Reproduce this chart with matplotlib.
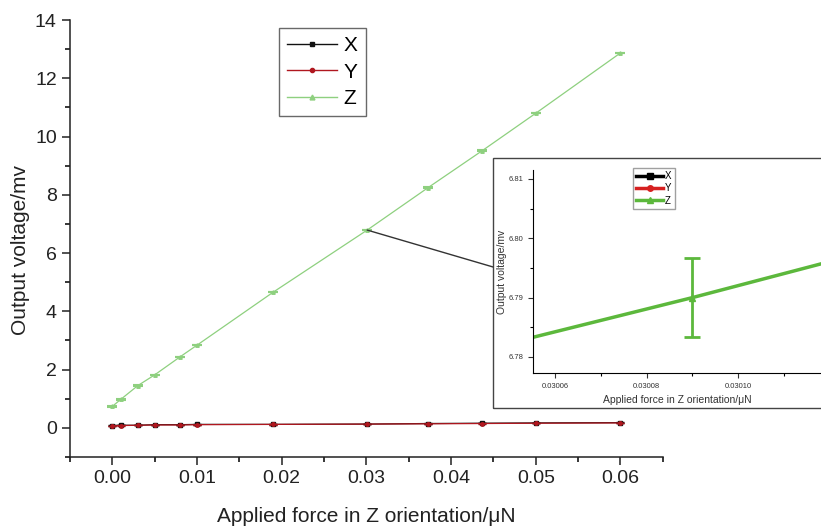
import numpy as np
import matplotlib.pyplot as plt
from matplotlib.patches import Rectangle, ConnectionPatch
from matplotlib.lines import Line2D
from matplotlib.ticker import MultipleLocator

plt.rcParams['font.family'] = ['Liberation Sans', 'DejaVu Sans']

# -- data
force = [0.0, 0.001, 0.003, 0.005, 0.008, 0.010, 0.019, 0.03009, 0.0373, 0.0437, 0.050, 0.060]
volt_x = [0.08, 0.09, 0.09, 0.11, 0.11, 0.12, 0.12, 0.13, 0.15, 0.16, 0.17, 0.18]
volt_y = [0.07, 0.08, 0.09, 0.10, 0.10, 0.11, 0.12, 0.13, 0.14, 0.15, 0.16, 0.17]
volt_z = [0.74, 0.98, 1.45, 1.82, 2.44, 2.84, 4.66, 6.79, 8.25, 9.52, 10.80, 12.87]
err_z = [0.0067, 0.0067, 0.0067, 0.0067, 0.0067, 0.0067, 0.0067, 0.0067, 0.0067, 0.0067, 0.0067, 0.0067]
err_xy = [0.005, 0.005, 0.005, 0.005, 0.005, 0.005, 0.005, 0.005, 0.005, 0.005, 0.005, 0.005]
names = ["X", "Y", "Z"]

c_x = "#111111"
c_y = "#b0171f"
c_z = "#8ed07f"
c_z_in = "#5cb83c"

fig = plt.figure(figsize=(8.21, 5.27), dpi=100)

# -- main axes
ax = fig.add_axes([0.0853, 0.1328, 0.722, 0.8292])
ax.errorbar(force, volt_x, yerr=err_xy, color=c_x, lw=0.9, marker="s", ms=2.5,
            capsize=3, elinewidth=0.8)
ax.errorbar(force, volt_y, yerr=err_xy, color=c_y, lw=0.9, marker="o", ms=2.5,
            capsize=3, elinewidth=0.8)
ax.errorbar(force, volt_z, yerr=err_z, color=c_z, lw=0.9, marker="^", ms=2.5,
            capsize=3.5, capthick=1.5, elinewidth=0.8)

ax.set_xlim(-0.005, 0.065)
ax.set_ylim(-1, 14)
ax.set_xticks([0.0, 0.01, 0.02, 0.03, 0.04, 0.05, 0.06])
ax.set_yticks([0, 2, 4, 6, 8, 10, 12, 14])
ax.xaxis.set_minor_locator(MultipleLocator(0.005))
ax.yaxis.set_minor_locator(MultipleLocator(1))
ax.tick_params(which="major", direction="out", length=6, width=1.1,
               labelsize=14, colors="#222222")
ax.tick_params(which="minor", direction="out", length=3.5, width=1.1)
ax.spines["top"].set_visible(False)
ax.spines["right"].set_visible(False)
for s in ["left", "bottom"]:
    ax.spines[s].set_linewidth(1.1)
    ax.spines[s].set_color("#222222")
ax.set_xlabel("Applied force in Z orientation/μN", fontsize=15, color="#222222", labelpad=14)
fig.text(21 / 821, 1 - 250 / 527, "Output voltage/mv", fontsize=15, color="#222222",
         rotation=90, ha="center", va="center")

h_main = [Line2D([], [], color=c_x, lw=1.0, marker="s", ms=3),
          Line2D([], [], color=c_y, lw=1.0, marker="o", ms=3),
          Line2D([], [], color=c_z, lw=1.0, marker="^", ms=3.5)]
leg = ax.legend(h_main, names, loc="upper left", bbox_to_anchor=(279 / 821, 1 - 28 / 527),
                bbox_transform=fig.transFigure, fontsize=15, frameon=True,
                fancybox=False, edgecolor="#444444", handlelength=2.4,
                handletextpad=0.3, labelspacing=0.35, borderpad=0.4, borderaxespad=0)
leg.get_frame().set_linewidth(1.0)

# -- inset frame
fig.patches.append(Rectangle((0.6005, 0.2258), 0.45, 0.4744, transform=fig.transFigure,
                             fill=False, edgecolor="#444444", lw=1.0, zorder=0))

# -- inset axes
ax2 = fig.add_axes([0.6492, 0.2922, 0.3508, 0.3852])
ax2.plot(force, volt_x, color="black", lw=2.5, marker="s", ms=4)
ax2.plot(force, volt_y, color="#d62020", lw=2.5, marker="o", ms=4)
ax2.errorbar(force, volt_z, yerr=err_z, color=c_z_in, lw=2.5, marker="^", ms=4,
             capsize=6, capthick=2, elinewidth=2)
ax2.set_xlim(0.0300552, 0.0301181)
ax2.set_ylim(6.7773, 6.8115)
ax2.set_xticks([0.03006, 0.03008, 0.03010])
ax2.set_xticklabels(["0.03006", "0.03008", "0.03010"])
ax2.set_yticks([6.78, 6.79, 6.80, 6.81])
ax2.set_yticklabels(["6.78", "6.79", "6.80", "6.81"])
ax2.xaxis.set_minor_locator(MultipleLocator(0.00001))
ax2.yaxis.set_minor_locator(MultipleLocator(0.005))
ax2.tick_params(which="major", direction="out", length=3.5, width=0.8,
                labelsize=5.5, colors="#333333")
ax2.tick_params(which="minor", direction="out", length=2, width=0.8)
ax2.spines["top"].set_visible(False)
ax2.spines["right"].set_visible(False)
ax2.set_xlabel("Applied force in Z orientation/μN", fontsize=7.5, color="#333333", labelpad=4)
ax2.set_ylabel("Output voltage/mv", fontsize=7.5, color="#333333", labelpad=1)

h_in = [Line2D([], [], color="black", lw=2.5, marker="s", ms=4),
        Line2D([], [], color="#d62020", lw=2.5, marker="o", ms=4),
        Line2D([], [], color=c_z_in, lw=2.5, marker="^", ms=4)]
leg2 = ax2.legend(h_in, names, loc="upper left", bbox_to_anchor=(633 / 821, 1 - 168 / 527),
                  bbox_transform=fig.transFigure, fontsize=7, frameon=True,
                  fancybox=False, edgecolor="#888888", handlelength=2.8,
                  handletextpad=0.2, labelspacing=0.25, borderpad=0.3, borderaxespad=0)

# -- connector from the main point to the inset
con = ConnectionPatch(xyA=(force[7], volt_z[7]), coordsA=ax.transData,
                      xyB=(0.6005, 0.4934), coordsB=fig.transFigure,
                      color="#333333", lw=1.0)
fig.add_artist(con)

fig.savefig("out.png", dpi=100)
